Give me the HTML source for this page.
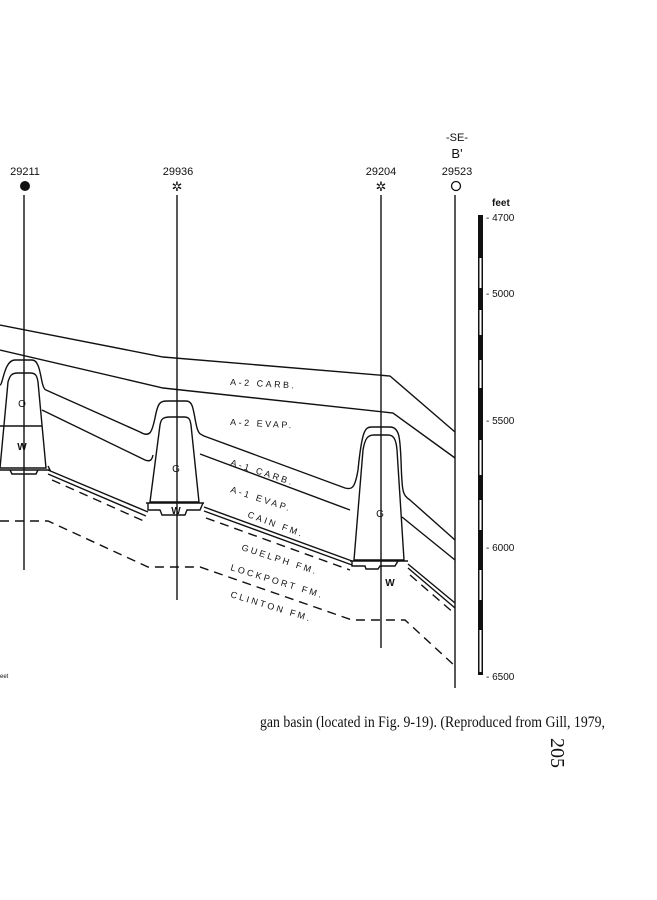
<!DOCTYPE html>
<html><head><style>
html,body{margin:0;padding:0;background:#fff;}
svg{display:block}
text{font-family:"Liberation Sans",sans-serif;fill:#111}
</style></head><body>
<svg width="657" height="900" viewBox="0 0 657 900" xmlns="http://www.w3.org/2000/svg">
<g stroke="#111" fill="none" stroke-width="1.4">
<line x1="24" y1="195" x2="24" y2="570"/>
<line x1="177" y1="195" x2="177" y2="600"/>
<line x1="381" y1="195" x2="381" y2="648"/>
<line x1="455" y1="195" x2="455" y2="688"/>
<polyline points="0,325 163,357 390,376 455,432"/>
<polyline points="0,350 163,388 393,413 455,458"/>
<path d="M0,385 C3,385 4,360 15,360 L32,360 C42,360 40,388 46,390 L140,432 C150,438 152,432 155,418 C158,402 160,401 168,401 L186,401 C194,401 193,412 197,428 C199,434 200,434 204,436 L345,488 C352,490 355,488 358,470 C362,430 365,427 372,427 L390,427 C400,427 400,440 401,460 C402,490 402,495 410,500 L455,540"/>
<path d="M42,410 L145,460 C150,462 152,460 153,455 M200,454 L350,510 M402,517 L455,560"/>
<path d="M0,468 L8,382 C10,375 12,373 18,373 L30,373 C36,373 37,376 38,382 L46,468 Z"/>
<line x1="0" y1="426" x2="42" y2="426"/>
<path d="M150,502 L160,425 C161,419 163,417 170,417 L184,417 C189,417 190,419 191,425 L199,502 Z"/>
<path d="M354,560 L363,450 C365,438 368,435 374,435 L388,435 C393,435 396,438 397,450 L404,560 Z"/>
<path d="M0,470 L50,470 L48,466 M10,470 L12,474 L36,474 L38,470"/>
<path d="M146,503 L204,503 M148,503 L148,510 L160,510 L162,515 L185,515 L187,510 L200,510 L203,503"/>
<path d="M350,561 L408,561 M352,561 L352,566 L365,566 L366,569 L378,569 L380,566 L395,566 L398,561"/>
<polyline points="48,470 148,512"/>
<polyline points="48,474 146,516"/>
<polyline points="204,507 352,561"/>
<polyline points="204,511 352,565"/>
<polyline points="408,564 455,603"/>
<polyline points="408,568 455,608"/>
</g>
<g stroke="#111" fill="none" stroke-width="1.4" stroke-dasharray="9,6">
<polyline points="52,480 146,522"/>
<polyline points="206,518 350,570"/>
<polyline points="410,575 455,614"/>
<polyline points="0,521 48,521 148,567 200,567 352,620 405,620 455,666"/>
</g>
<circle cx="25" cy="186" r="5" fill="#111"/>
<text x="177" y="191" font-size="13" text-anchor="middle">✲</text>
<text x="381" y="191" font-size="13" text-anchor="middle">✲</text>
<circle cx="456" cy="186" r="4.5" fill="none" stroke="#111" stroke-width="1.3"/>
<g font-size="11" text-anchor="middle">
<text x="25" y="175">29211</text>
<text x="178" y="175">29936</text>
<text x="381" y="175">29204</text>
<text x="457" y="175">29523</text>
<text x="457" y="141">-SE-</text>
<text x="457" y="158" font-size="13">B'</text>
</g>
<rect x="478" y="215" width="5" height="460" fill="#111"/>
<g fill="#fff">
<rect x="479.5" y="258" width="2" height="30"/><rect x="479.5" y="310" width="2" height="25"/>
<rect x="479.5" y="360" width="2" height="28"/><rect x="479.5" y="440" width="2" height="35"/>
<rect x="479.5" y="500" width="2" height="30"/><rect x="479.5" y="570" width="2" height="30"/>
<rect x="479.5" y="630" width="2" height="42"/>
</g>
<g font-size="10">
<text x="492" y="206" font-weight="bold">feet</text>
<text x="486" y="221">- 4700</text>
<text x="486" y="297">- 5000</text>
<text x="486" y="424">- 5500</text>
<text x="486" y="551">- 6000</text>
<text x="486" y="680">- 6500</text>
</g>
<g font-size="9" letter-spacing="2.5">
<text x="22" y="407" text-anchor="middle" letter-spacing="0" font-size="10">O</text>
<text x="22" y="450" text-anchor="middle" letter-spacing="0" font-size="10" font-weight="bold">W</text>
<text x="176" y="472" text-anchor="middle" letter-spacing="0" font-size="10">G</text>
<text x="176" y="514" text-anchor="middle" letter-spacing="0" font-size="10" font-weight="bold">W</text>
<text x="380" y="517" text-anchor="middle" letter-spacing="0" font-size="10">G</text>
<text x="390" y="586" text-anchor="middle" letter-spacing="0" font-size="10" font-weight="bold">W</text>
<text x="230" y="385" transform="rotate(3 230 385)">A-2 CARB.</text>
<text x="230" y="425" transform="rotate(3 230 425)">A-2 EVAP.</text>
<text x="230" y="465" transform="rotate(18 230 465)">A-1 CARB.</text>
<text x="230" y="492" transform="rotate(18 230 492)">A-1 EVAP.</text>
<text x="247" y="517" transform="rotate(20 247 517)">CAIN FM.</text>
<text x="241" y="550" transform="rotate(18 241 550)">GUELPH FM.</text>
<text x="230" y="570" transform="rotate(17 230 570)">LOCKPORT FM.</text>
<text x="230" y="597" transform="rotate(17 230 597)">CLINTON FM.</text>
</g>
<text x="0" y="678" font-size="6">eet</text>
<text x="260" y="727" font-size="16" textLength="345" lengthAdjust="spacingAndGlyphs" style="font-family:'Liberation Serif',serif">gan basin (located in Fig. 9-19). (Reproduced from Gill, 1979,</text>
<text x="0" y="0" font-size="20" transform="translate(551,738) rotate(90)" style="font-family:'Liberation Serif',serif">205</text>
</svg>
</body></html>
